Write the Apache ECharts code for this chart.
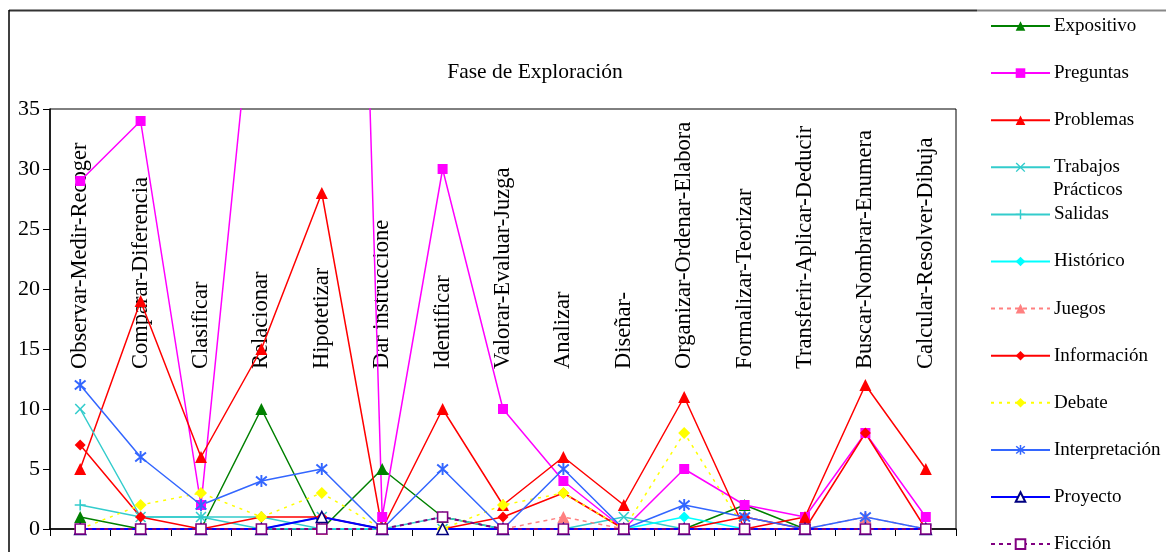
<!DOCTYPE html>
<html>
<head>
<meta charset="utf-8">
<title>Fase de Exploración</title>
<script src="https://cdn.jsdelivr.net/npm/echarts@6/dist/echarts.min.js"></script>
<style>
  html, body { margin: 0; padding: 0; background: #fff; }
  #main { width: 1166px; height: 552px; }
</style>
</head>
<body>
<div id="main"></div>
<script>
// categorías (tal como se ven en el gráfico)
var categories = ['Observar-Medir-Recoger', 'Comparar-Diferencia', 'Clasificar', 'Relacionar', 'Hipotetizar',
  'Dar instruccione', 'Identificar', 'Valorar-Evaluar-Juzga', 'Analizar', 'Diseñar-',
  'Organizar-Ordenar-Elabora', 'Formalizar-Teorizar', 'Transferir-Aplicar-Deducir', 'Buscar-Nombrar-Enumera', 'Calcular-Resolver-Dibuja'];

var yTicks = [0, 5, 10, 15, 20, 25, 30, 35];

// valores por tipo de actividad
var expositivo     = [1, 0, 0, 10, 0, 5, 1, 0, 0, 0, 0, 2, 0, 0, 0];
var preguntas      = [29, 34, 2, 52, 170, 1, 30, 10, 4, 0, 5, 2, 1, 8, 1];
var problemas      = [5, 19, 6, 15, 28, 0, 10, 2, 6, 2, 11, 0, 1, 12, 5];
var trabajos       = [10, 1, 1, 0, 1, 0, 0, 0, 0, 1, 0, 0, 0, 0, 0];
var salidas        = [2, 1, 1, 1, 0, 0, 1, 0, 0, 0, 0, 0, 0, 0, 0];
var historico      = [0, 0, 0, 0, 0, 0, 0, 0, 0, 0, 1, 0, 0, 0, 0];
var juegos         = [0, 0, 0, 0, 0, 0, 0, 0, 1, 0, 0, 0, 0, 1, 0];
var informacion    = [7, 1, 0, 1, 1, 0, 0, 1, 3, 0, 0, 1, 0, 8, 0];
var debate         = [0, 2, 3, 1, 3, 0, 0, 2, 3, 0, 8, 0, 0, 0, 0];
var interpretacion = [12, 6, 2, 4, 5, 0, 5, 0, 5, 0, 2, 1, 0, 1, 0];
var proyecto       = [0, 0, 0, 0, 1, 0, 0, 0, 0, 0, 0, 0, 0, 0, 0];
var ficcion        = [0, 0, 0, 0, 0, 0, 1, 0, 0, 0, 0, 0, 0, 0, 0];

var FONT = '"Liberation Serif", "DejaVu Serif", serif';

// marcadores dibujados como trazos finos
var SYM_X = 'path://M0,2L2,0L10,8L18,0L20,2L12,10L20,18L18,20L10,12L2,20L0,18L8,10Z';
var SYM_PLUS = 'path://M8.5,0h3v8.5h8.5v3h-8.5v8.5h-3v-8.5h-8.5v-3h8.5Z';
var SYM_STAR = 'path://M8.5,0h3v20h-3Z' +
  'M0.51,3.625L2.49,1.375L19.49,16.375L17.51,18.625Z' +
  'M17.51,1.375L19.49,3.625L2.49,18.625L0.51,16.375Z';

function serie(name, data, color, symbol, size, opts) {
  opts = opts || {};
  return {
    name: name,
    type: 'line',
    data: data,
    symbol: symbol,
    symbolSize: size,
    showAllSymbol: true,
    clip: true,
    lineStyle: { color: color, width: opts.width || 1.5, type: opts.dash || 'solid' },
    itemStyle: {
      color: opts.fill || color,
      borderColor: opts.border || color,
      borderWidth: opts.border ? 1.6 : 0
    },
    emphasis: { disabled: true }
  };
}

var series = [
  serie('Expositivo', expositivo, '#008000', 'triangle', 12),
  serie('Preguntas', preguntas, '#FF00FF', 'rect', 10),
  serie('Problemas', problemas, '#FF0000', 'triangle', 12),
  serie('Trabajos Prácticos', trabajos, '#33CCCC', SYM_X, 11),
  serie('Salidas', salidas, '#33CCCC', SYM_PLUS, 11),
  serie('Histórico', historico, '#00FFFF', 'diamond', 11),
  serie('Juegos', juegos, '#FF8080', 'triangle', 12, { dash: [4, 4] }),
  serie('Información', informacion, '#FF0000', 'diamond', 11),
  serie('Debate', debate, '#FFFF00', 'diamond', 12, { dash: [3, 5] }),
  serie('Interpretación', interpretacion, '#3366FF', SYM_STAR, 12),
  serie('Proyecto', proyecto, '#0000FF', 'triangle', 11, { fill: '#fff', border: '#000080', width: 2 }),
  serie('Ficción', ficcion, '#800080', 'rect', 10, { fill: '#fff', border: '#800080', dash: [4, 4], width: 2 })
];

var chart = echarts.init(document.getElementById('main'), null, { renderer: 'canvas' });

chart.setOption({
  animation: false,
  backgroundColor: '#fff',
  textStyle: { fontFamily: FONT, color: '#000' },
  grid: {
    left: 50, right: 210, top: 109, bottom: 23,
    show: true, borderColor: '#000', borderWidth: 1, backgroundColor: 'transparent'
  },
  legend: {
    orient: 'vertical',
    left: 990,
    top: 16,
    width: 176,
    height: 580,
    padding: 0,
    itemGap: 27.1,
    itemWidth: 59,
    itemHeight: 12,
    selectedMode: false,
    data: series.map(function (s) { return s.name; }),
    formatter: function (name) { return name === 'Trabajos Prácticos' ? 'Trabajos' : name; },
    textStyle: { fontFamily: FONT, fontSize: 19, lineHeight: 20, color: '#000', padding: [0, 0, 0, -1] }
  },
  xAxis: {
    type: 'category',
    data: categories,
    boundaryGap: true,
    axisLine: { show: true, onZero: false, lineStyle: { color: '#000', width: 1.5 } },
    axisTick: { show: true, inside: false, length: 7, lineStyle: { color: '#000' } },
    axisLabel: {
      inside: true,
      rotate: 90,
      margin: 160,
      interval: 0,
      fontFamily: FONT,
      fontSize: 22.5,
      color: '#000'
    },
    splitLine: { show: false }
  },
  yAxis: {
    type: 'value',
    min: yTicks[0],
    max: yTicks[yTicks.length - 1],
    interval: 5,
    axisLine: { show: true, lineStyle: { color: '#000', width: 1.5 } },
    axisTick: { show: true, length: 7, lineStyle: { color: '#000' } },
    axisLabel: { fontFamily: FONT, fontSize: 22, color: '#000', margin: 10 },
    splitLine: { show: false }
  },
  graphic: [
    // borde exterior del área del gráfico
    { type: 'line', shape: { x1: 9, y1: 10.5, x2: 977, y2: 10.5 }, style: { stroke: '#333', lineWidth: 2 } },
    { type: 'line', shape: { x1: 977, y1: 10.5, x2: 1166, y2: 10.5 }, style: { stroke: '#888', lineWidth: 2 } },
    { type: 'line', shape: { x1: 9, y1: 10, x2: 9, y2: 552 }, style: { stroke: '#000', lineWidth: 1.5 } },
    {
      type: 'text', x: 535, y: 72,
      style: { text: 'Fase de Exploración', font: '21.5px ' + FONT, fill: '#000', textAlign: 'center', textVerticalAlign: 'middle' }
    },
    {
      type: 'text', x: 1053, y: 190,
      style: { text: 'Prácticos', font: '19px ' + FONT, fill: '#000', textAlign: 'left', textVerticalAlign: 'middle' }
    }
  ],
  series: series
});
</script>
</body>
</html>
